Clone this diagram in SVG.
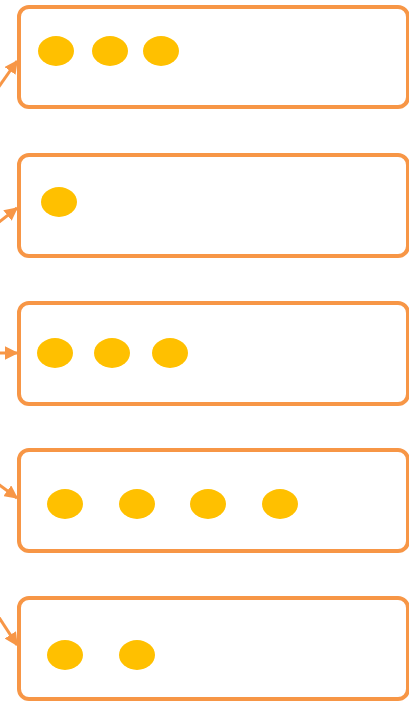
<svg xmlns="http://www.w3.org/2000/svg" width="409" height="701" viewBox="0 0 409 701">
<style>
.box{fill:#fff;stroke:#F79646;stroke-width:4}
.dot{fill:#FFC000}
.con{stroke:#F79646;stroke-width:3;fill:none}
</style>
<defs>
<marker id="ah" viewBox="0 0 10 10" refX="9" refY="5" markerWidth="4.5" markerHeight="4.5" orient="auto" markerUnits="strokeWidth">
<path d="M0,0 L10,5 L0,10 Z" fill="#F79646"/>
</marker>
</defs>
<rect width="409" height="701" fill="#fff"/>
<g id="connectors">
<line class="con" x1="-2" y1="88" x2="17" y2="61" marker-end="url(#ah)"/>
<line class="con" x1="-2" y1="223" x2="17" y2="208" marker-end="url(#ah)"/>
<line class="con" x1="-2" y1="353" x2="17" y2="353" marker-end="url(#ah)"/>
<line class="con" x1="-2" y1="484" x2="17" y2="498" marker-end="url(#ah)"/>
<line class="con" x1="-2" y1="616" x2="17" y2="645" marker-end="url(#ah)"/>
</g>
<g id="n1"><rect class="box" x="19" y="7" width="389" height="100" rx="10"/>
<ellipse class="dot" cx="56" cy="51" rx="18" ry="15"/><ellipse class="dot" cx="110" cy="51" rx="18" ry="15"/><ellipse class="dot" cx="161" cy="51" rx="18" ry="15"/></g>
<g id="n2"><rect class="box" x="19" y="155" width="389" height="101" rx="10"/>
<ellipse class="dot" cx="59" cy="202" rx="18" ry="15"/></g>
<g id="n3"><rect class="box" x="19" y="303" width="389" height="101" rx="10"/>
<ellipse class="dot" cx="55" cy="353" rx="18" ry="15"/><ellipse class="dot" cx="112" cy="353" rx="18" ry="15"/><ellipse class="dot" cx="170" cy="353" rx="18" ry="15"/></g>
<g id="n4"><rect class="box" x="19" y="450" width="389" height="101" rx="10"/>
<ellipse class="dot" cx="65" cy="504" rx="18" ry="15"/><ellipse class="dot" cx="137" cy="504" rx="18" ry="15"/><ellipse class="dot" cx="208" cy="504" rx="18" ry="15"/><ellipse class="dot" cx="280" cy="504" rx="18" ry="15"/></g>
<g id="n5"><rect class="box" x="19" y="598" width="389" height="101" rx="10"/>
<ellipse class="dot" cx="65" cy="655" rx="18" ry="15"/><ellipse class="dot" cx="137" cy="655" rx="18" ry="15"/></g>
</svg>
